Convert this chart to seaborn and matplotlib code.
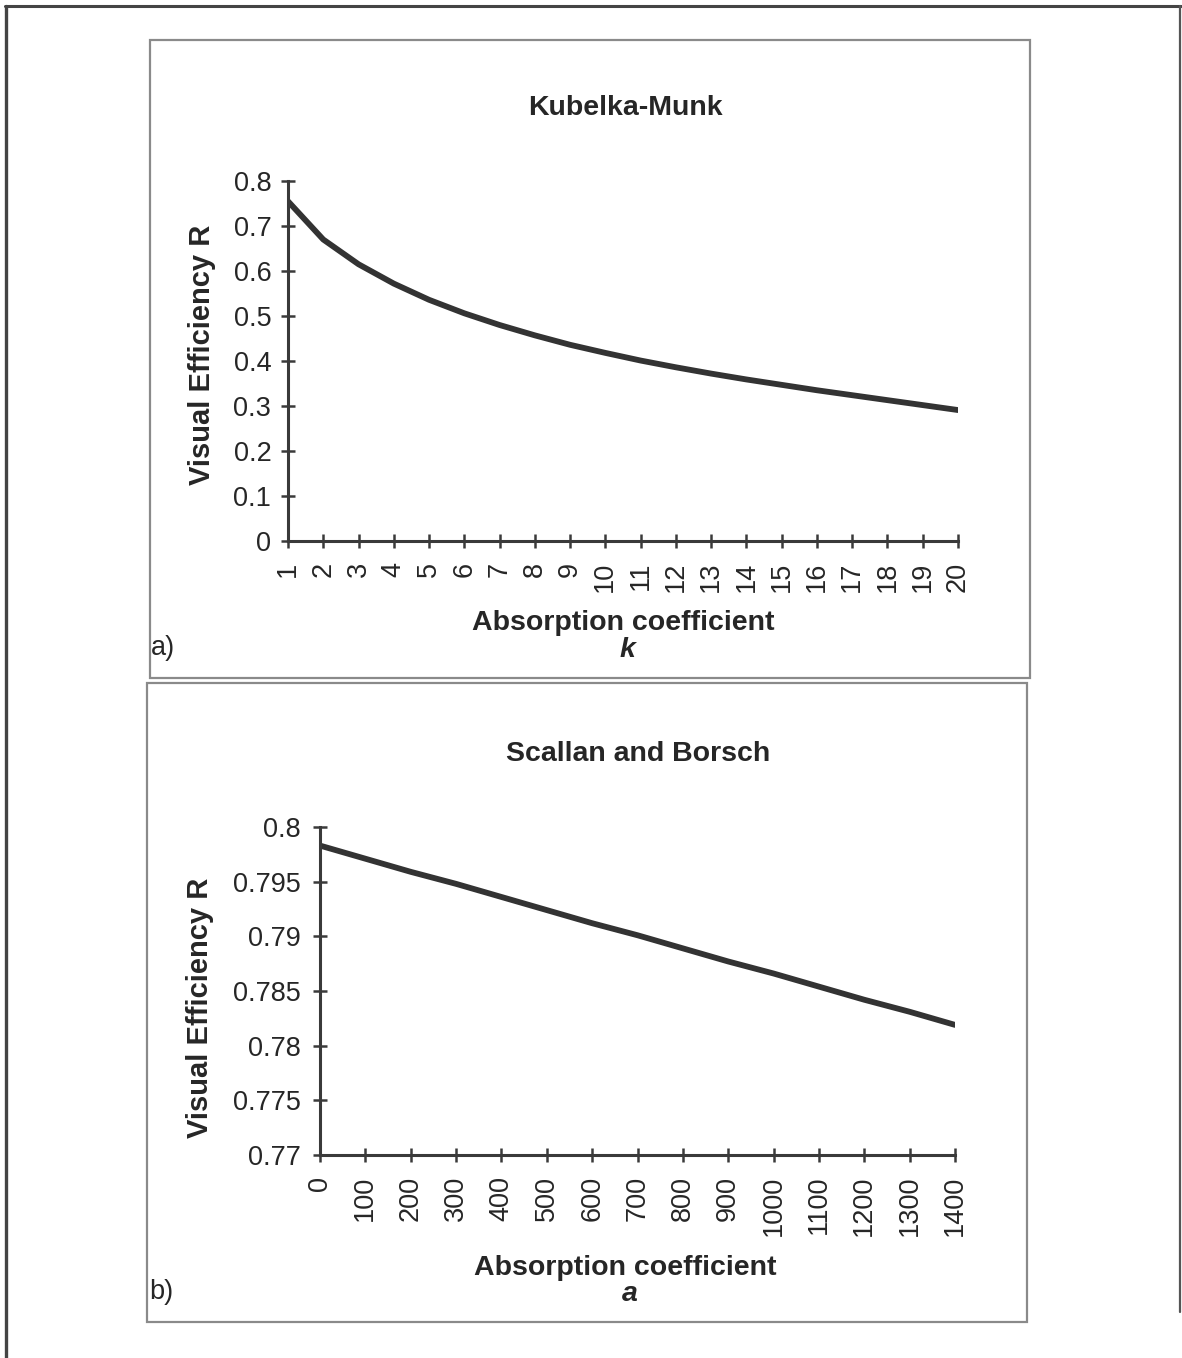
import matplotlib
matplotlib.use("Agg")
import matplotlib.pyplot as plt
import seaborn as sns
import pandas as pd
from matplotlib.patches import Rectangle
from matplotlib.lines import Line2D

# ---- data ----
km_k = list(range(1, 21))
km_R = [0.755, 0.670, 0.615, 0.572, 0.536, 0.506, 0.480, 0.457, 0.436, 0.418,
        0.401, 0.386, 0.372, 0.359, 0.347, 0.335, 0.324, 0.313, 0.302, 0.291]

sb_a = [0, 100, 200, 300, 400, 500, 600, 700, 800, 900, 1000, 1100, 1200, 1300, 1400]
sb_R = [0.7983, 0.7971, 0.7959, 0.7948, 0.7936, 0.7924, 0.7912, 0.7901,
        0.7889, 0.7877, 0.7866, 0.7854, 0.7842, 0.7831, 0.7819]

title_a = "Kubelka-Munk"
title_b = "Scallan and Borsch"
ylabel = "Visual Efficiency R"
xlabel = "Absorption coefficient"

sns.set_theme(style="white")
plt.rcParams['font.family'] = ['Liberation Sans', 'DejaVu Sans']

W, H = 1182, 1358
fig = plt.figure(figsize=(W / 100, H / 100), dpi=100)
fig.patch.set_facecolor("white")

def fx(px):
    return px / W

def fy(py):
    return 1 - py / H

dark = "#3a3a3a"
line_col = "#333333"
txt = "#262626"

def style_axes(ax, ypad):
    for s in ["top", "right"]:
        ax.spines[s].set_visible(False)
    for s in ["left", "bottom"]:
        ax.spines[s].set_color(dark)
        ax.spines[s].set_linewidth(2.2)
    ax.tick_params(axis="both", direction="inout", length=10, width=1.8,
                   color=dark, labelsize=19.5, labelcolor=txt,
                   left=True, bottom=True)
    ax.tick_params(axis="x", pad=10, labelrotation=90)
    ax.tick_params(axis="y", pad=ypad)
    ax.set_xlabel("")
    ax.set_ylabel("")
    ax.grid(False)
    ax.set_facecolor("white")

# ---- panel a ----
ax1 = fig.add_axes([fx(288), fy(541), fx(958) - fx(288), fy(181) - fy(541)])
df_a = pd.DataFrame({"k": km_k, "R": km_R})
sns.lineplot(data=df_a, x="k", y="R", ax=ax1, color=line_col, linewidth=4.2)
ax1.set_xlim(1, 20)
ax1.set_ylim(0, 0.8)
ax1.set_xticks(km_k)
ax1.set_xticklabels([str(v) for v in km_k])
ax1.set_yticks([0, 0.1, 0.2, 0.3, 0.4, 0.5, 0.6, 0.7, 0.8])
ax1.set_yticklabels(["0", "0.1", "0.2", "0.3", "0.4", "0.5", "0.6", "0.7", "0.8"])
style_axes(ax1, 7)

# ---- panel b ----
ax2 = fig.add_axes([fx(320), fy(1155), fx(955) - fx(320), fy(827) - fy(1155)])
df_b = pd.DataFrame({"a": sb_a, "R": sb_R})
sns.lineplot(data=df_b, x="a", y="R", ax=ax2, color=line_col, linewidth=4.2)
ax2.set_xlim(0, 1400)
ax2.set_ylim(0.77, 0.8)
ax2.set_xticks(sb_a)
ax2.set_xticklabels([str(v) for v in sb_a])
ax2.set_yticks([0.77, 0.775, 0.78, 0.785, 0.79, 0.795, 0.8])
ax2.set_yticklabels(["0.77", "0.775", "0.78", "0.785", "0.79", "0.795", "0.8"])
style_axes(ax2, 9)

# ---- texts ----
tkw = dict(ha="center", va="center", fontsize=20.5, fontweight="bold", color=txt)
fig.text(fx(625), fy(108), title_a, **tkw)
fig.text(fx(638), fy(754), title_b, **tkw)

ykw = dict(tkw, fontsize=21)
fig.text(fx(202), fy(355), ylabel, rotation=90, **ykw)
fig.text(fx(200), fy(1008), ylabel, rotation=90, **ykw)

fig.text(fx(623), fy(623), xlabel, **tkw)
fig.text(fx(627), fy(650), "k", style="italic", **tkw)
fig.text(fx(625), fy(1268), xlabel, **tkw)
fig.text(fx(630), fy(1294), "a", style="italic", **tkw)

fig.text(fx(151), fy(648), "a)", ha="left", va="center", fontsize=19.5, color=txt)
fig.text(fx(149), fy(1292), "b)", ha="left", va="center", fontsize=19.5, color=txt)

# ---- panel frames ----
box_col = "#8a8a8a"
fig.patches.append(Rectangle((fx(150), fy(678)), fx(1030) - fx(150), fy(40) - fy(678),
                             transform=fig.transFigure, fill=False, edgecolor=box_col,
                             linewidth=1.6, zorder=0))
fig.patches.append(Rectangle((fx(147), fy(1322)), fx(1027) - fx(147), fy(683) - fy(1322),
                             transform=fig.transFigure, fill=False, edgecolor=box_col,
                             linewidth=1.6, zorder=0))

# ---- outer page frame ----
fig.lines.append(Line2D([fx(5), fx(1181)], [fy(6), fy(6)], transform=fig.transFigure,
                        color="#444444", linewidth=2.2))
fig.lines.append(Line2D([fx(5.5), fx(5.5)], [fy(6), fy(1358)], transform=fig.transFigure,
                        color="#444444", linewidth=2.4))
fig.lines.append(Line2D([fx(1180), fx(1180)], [fy(6), fy(1312)], transform=fig.transFigure,
                        color="#555555", linewidth=1.6))

fig.savefig("out.png", dpi=100, facecolor="white")
